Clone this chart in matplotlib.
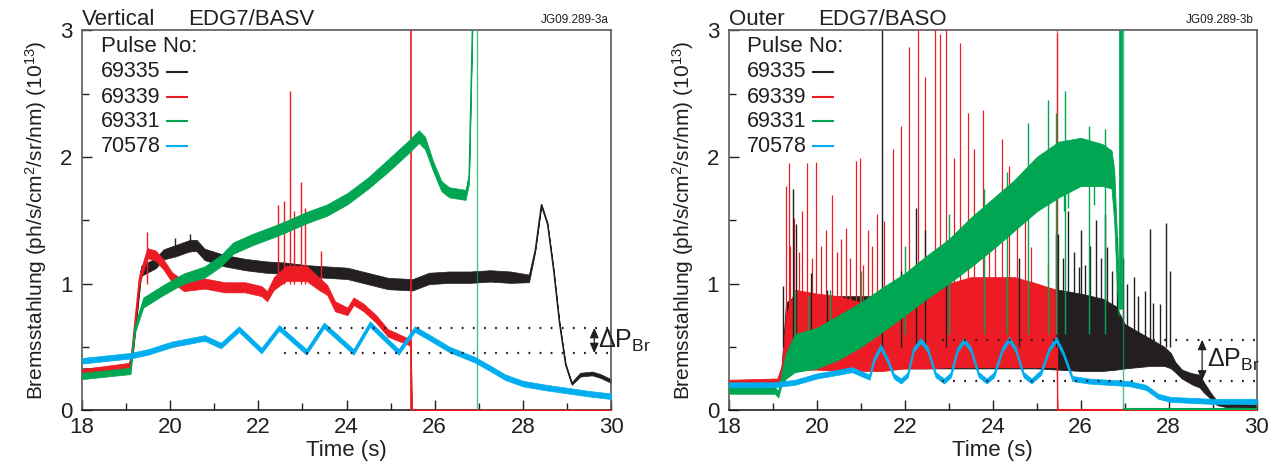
import matplotlib
matplotlib.use('Agg')
import matplotlib.pyplot as plt
import numpy as np

plt.rcParams['font.family'] = ['Liberation Sans', 'DejaVu Sans']
plt.rcParams['mathtext.fontset'] = 'custom'
plt.rcParams['mathtext.rm'] = 'Liberation Sans'

# ── colours ────────────────────────────────────────────────────────────────
C_BLK = '#231f20'
C_RED = '#ed1c24'
C_GRN = '#00a651'
C_BLU = '#00aeef'
C_SPINE = '#5a5a5a'

PULSES = ['69335', '69339', '69331', '70578']
COLORS = [C_BLK, C_RED, C_GRN, C_BLU]

# ── Vertical view (EDG7/BASV): centre value and noise half-width ──────────
v_blk_t = [18, 19.05, 19.15, 19.34, 19.67, 19.85, 20.13, 20.45, 20.6, 20.78, 21.24, 21.7,
           22.17, 22.63, 23.09, 23.56, 24.02, 24.48, 24.94, 25.5, 25.87, 26.33, 26.8, 27.26,
           27.72, 28.14, 28.28, 28.42, 28.56, 28.7, 28.83, 28.97, 29.11, 29.3, 29.57, 29.76, 30]
v_blk_v = [0.31, 0.33, 0.45, 1.10, 1.16, 1.23, 1.26, 1.30, 1.30, 1.23, 1.18, 1.15,
           1.13, 1.12, 1.10, 1.09, 1.08, 1.04, 1.00, 0.99, 1.04, 1.05, 1.05, 1.06,
           1.05, 1.04, 1.26, 1.62, 1.47, 1.10, 0.69, 0.36, 0.21, 0.28, 0.29, 0.27, 0.23]
v_blk_w = [0.02, 0.02, 0.02, 0.04, 0.04, 0.04, 0.045, 0.045, 0.045, 0.045, 0.045, 0.045,
           0.045, 0.045, 0.045, 0.045, 0.045, 0.045, 0.045, 0.045, 0.045, 0.045, 0.045, 0.045,
           0.045, 0.03, 0.01, 0.01, 0.01, 0.01, 0.01, 0.01, 0.01, 0.015, 0.015, 0.015, 0.015]
v_blk_spk_t = [20.45, 20.1]
v_blk_spk_v = [1.39, 1.36]

v_red_t = [18, 19.1, 19.3, 19.48, 19.67, 19.85, 20.04, 20.31, 20.78, 21.24, 21.7, 22.07, 22.2,
           22.35, 22.63, 23.09, 23.37, 23.56, 23.74, 24.02, 24.16, 24.39, 24.67, 24.94, 25.41,
           25.46, 25.48, 30]
v_red_v = [0.30, 0.35, 1.03, 1.24, 1.22, 1.15, 1.05, 0.98, 1.00, 0.97, 0.97, 0.94, 0.90,
           1.00, 1.08, 1.08, 1.00, 0.95, 0.82, 0.78, 0.86, 0.81, 0.72, 0.61, 0.54,
           0.52, 0.0, 0.0]
v_red_w = [0.025, 0.025, 0.04, 0.04, 0.04, 0.04, 0.04, 0.04, 0.04, 0.04, 0.04, 0.04, 0.04,
           0.05, 0.06, 0.06, 0.05, 0.04, 0.04, 0.03, 0.03, 0.03, 0.03, 0.03, 0.025,
           0.02, 0.0, 0.0]
v_red_spk_t = [19.48, 22.44, 22.58, 22.72, 22.8, 22.97, 23.05, 23.42]
v_red_spk_v = [1.41, 1.62, 1.65, 2.52, 1.57, 1.80, 1.60, 1.26]
v_red_drop_t = 25.47

v_grn_t = [18, 19.1, 19.2, 19.39, 19.85, 20.31, 20.78, 21.15, 21.43, 21.89, 22.35, 22.63,
           23.09, 23.56, 24.02, 24.48, 24.94, 25.41, 25.64, 25.78, 25.96, 26.15, 26.33, 26.7,
           26.78, 26.86]
v_grn_v = [0.27, 0.31, 0.64, 0.85, 0.95, 1.04, 1.09, 1.18, 1.28, 1.35, 1.41, 1.45,
           1.52, 1.58, 1.67, 1.79, 1.93, 2.08, 2.16, 2.11, 1.93, 1.77, 1.72, 1.70,
           1.83, 3.10]
v_grn_w = [0.025, 0.025, 0.03, 0.04, 0.04, 0.04, 0.045, 0.045, 0.045, 0.045, 0.045, 0.045,
           0.045, 0.045, 0.045, 0.045, 0.05, 0.05, 0.05, 0.05, 0.04, 0.04, 0.04, 0.04,
           0.04, 0.04]
v_grn_drop_t = 26.96

v_blu_t = [18, 19.1, 19.5, 20.04, 20.78, 21.15, 21.56, 22.07, 22.47, 23.09, 23.49, 24.16,
           24.53, 25.18, 25.55, 25.9, 26.33, 26.9, 27.26, 27.6, 28.0, 28.5, 29.1, 29.5, 30]
v_blu_v = [0.39, 0.43, 0.46, 0.52, 0.57, 0.51, 0.64, 0.47, 0.65, 0.46, 0.67, 0.46,
           0.68, 0.46, 0.64, 0.57, 0.48, 0.40, 0.33, 0.26, 0.21, 0.18, 0.15, 0.13, 0.11]

# ── Outer view (EDG7/BASO): lower / upper edge of the noise band ──────────
o_blk_t = [18, 19.1, 19.2, 19.3, 19.5, 20, 21, 22, 23, 24, 25, 25.5, 26, 26.5, 26.8, 27.0,
           27.3, 27.6, 27.9, 28.05, 28.15, 28.3, 28.45, 28.55, 28.7, 28.8, 28.95, 29.1, 29.3, 30]
o_blk_lo = [0.19, 0.19, 0.25, 0.33, 0.34, 0.34, 0.33, 0.33, 0.33, 0.33, 0.33, 0.32, 0.31,
            0.31, 0.32, 0.33, 0.34, 0.35, 0.35, 0.33, 0.30, 0.25, 0.22, 0.20, 0.18, 0.14,
            0.09, 0.04, 0.025, 0.02]
o_blk_hi = [0.22, 0.22, 0.35, 0.85, 0.90, 0.90, 0.90, 0.90, 0.90, 0.90, 0.92, 0.95, 0.92,
            0.88, 0.82, 0.68, 0.62, 0.56, 0.50, 0.45, 0.38, 0.32, 0.30, 0.29, 0.28, 0.22,
            0.14, 0.07, 0.05, 0.045]
o_blk_spk_t = [19.22, 19.46, 19.53, 19.87, 20.24, 21.48, 21.91, 22.26, 22.47, 22.94, 24.6,
               25.44, 25.49, 25.6, 25.72, 25.85, 25.96, 26.0, 26.1, 26.2, 26.34, 26.45, 26.55,
               26.6, 26.7, 26.83, 26.95, 27.05, 27.2, 27.3, 27.46, 27.57, 27.65, 27.8, 27.94,
               28.04]
o_blk_spk_v = [0.98, 1.75, 1.47, 1.08, 0.95, 3.0, 1.10, 1.60, 1.42, 1.29, 1.20,
               1.39, 1.39, 1.20, 1.57, 1.25, 1.13, 1.42, 1.15, 1.30, 1.50, 1.20, 1.55,
               1.29, 1.10, 1.37, 1.20, 1.00, 1.05, 0.90, 0.94, 1.43, 0.85, 0.84, 1.48,
               1.10]

o_red_t = [18, 19.1, 19.2, 19.3, 19.5, 20.0, 20.5, 21.0, 21.5, 22.0, 22.5, 23.0, 23.5, 24.0,
           24.5, 25.0, 25.45, 25.47, 30]
o_red_lo = [0.20, 0.20, 0.24, 0.30, 0.32, 0.32, 0.31, 0.31, 0.31, 0.33, 0.33, 0.34, 0.34,
            0.34, 0.34, 0.34, 0.34, -0.01, -0.01]
o_red_hi = [0.24, 0.25, 0.35, 0.75, 0.95, 0.92, 0.90, 0.85, 0.85, 0.90, 0.95, 1.00, 1.05,
            1.05, 1.05, 1.00, 0.95, 0.01, 0.01]
o_red_spk_t = [19.29, 19.36, 19.4, 19.48, 19.6, 19.66, 19.78, 19.9, 19.99, 20.1, 20.2, 20.34,
               20.45, 20.55, 20.66, 20.75, 20.88, 20.99, 21.05, 21.17, 21.25, 21.36, 21.52,
               21.73, 21.91, 22.1, 22.29, 22.47, 22.68, 22.8, 22.94, 23.12, 23.26, 23.43,
               23.58, 23.77, 23.91, 24.05, 24.22, 24.37, 24.56, 24.74, 24.88, 25.25, 25.46]
o_red_spk_v = [1.77, 1.95, 1.30, 1.52, 1.25, 1.57, 1.95, 1.20, 1.96, 1.30, 1.42, 1.70,
               1.25, 1.35, 1.44, 1.20, 1.97, 1.99, 1.15, 1.42, 1.30, 1.55, 1.49,
               2.06, 2.24, 2.87, 3.0, 2.63, 3.0, 2.97, 3.0, 1.99, 2.90, 2.35,
               2.06, 2.37, 1.60, 1.55, 2.14, 1.93, 1.62, 1.81, 1.29, 1.16, 2.98]

o_grn_t = [18, 19.05, 19.12, 19.2, 19.3, 19.5, 20.0, 20.5, 21.0, 21.5, 22.0, 22.5, 23.0,
           23.5, 24.0, 24.5, 25.0, 25.5, 26.0, 26.5, 26.7, 26.76, 26.82, 26.86]
o_grn_lo = [0.13, 0.13, 0.10, 0.20, 0.25, 0.30, 0.33, 0.40, 0.50, 0.62, 0.75, 0.88, 1.00,
            1.13, 1.27, 1.42, 1.57, 1.68, 1.77, 1.77, 1.75, 1.50, 1.00, 0.75]
o_grn_hi = [0.18, 0.18, 0.15, 0.30, 0.45, 0.60, 0.65, 0.75, 0.85, 0.97, 1.08, 1.22, 1.35,
            1.52, 1.67, 1.82, 2.00, 2.12, 2.15, 2.10, 2.05, 1.90, 1.40, 1.05]
o_grn_spk_t = [19.5, 19.8, 20.3, 21.0, 22.0, 23.0, 23.8, 24.33, 24.79, 25.25, 25.44, 25.65,
               26.18, 26.55]
o_grn_spk_v = [0.95, 0.90, 0.95, 1.10, 1.30, 1.55, 1.75, 1.88, 2.27, 2.45, 2.35, 2.52,
               2.24, 2.22]
o_grn_dip_t = [25.63, 25.72, 26.3]
o_grn_dip_v = [1.57, 1.60, 1.62]
o_grn_surge_t = [26.89, 26.92]
o_grn_drop_t = 26.96

o_blu_t = [18, 19.0, 19.5, 20.0, 20.5, 20.8, 21.2, 21.3, 21.45, 21.6, 21.75, 21.91, 22.07,
           22.2, 22.36, 22.52, 22.7, 22.89, 23.05, 23.2, 23.35, 23.5, 23.68, 23.86, 24.03,
           24.22, 24.37, 24.52, 24.7, 24.88, 25.1, 25.28, 25.44, 25.6, 25.81, 26.18, 27.1,
           27.48, 27.76, 28.04, 28.96, 30]
o_blu_v = [0.20, 0.20, 0.22, 0.27, 0.30, 0.32, 0.26, 0.40, 0.50, 0.40, 0.27, 0.23, 0.28,
           0.48, 0.55, 0.48, 0.28, 0.23, 0.28, 0.48, 0.55, 0.48, 0.28, 0.23, 0.28,
           0.48, 0.56, 0.48, 0.28, 0.23, 0.30, 0.48, 0.56, 0.45, 0.25, 0.23, 0.21,
           0.18, 0.11, 0.085, 0.07, 0.07]

# ΔP_Br markers (levels and start of dotted lines)
dp_left = dict(lo=0.45, hi=0.65, x0=22.58, xa=29.62, xt=29.71)
dp_right = dict(lo=0.233, hi=0.556, x0=22.84, xa=28.76, xt=28.87)


def band(ax, t, lo, hi, color, z):
    ax.fill_between(t, lo, hi, color=color, lw=0.6, edgecolor=color, zorder=z)


def trace(ax, t, v, w, color, z):
    v = np.array(v)
    w = np.array(w)
    ax.fill_between(t, v - w, v + w, color=color, lw=0.5, edgecolor=color, zorder=z)
    ax.plot(t, v, color=color, lw=1.0, zorder=z)


def frame(ax, tag, view, code, dp, xname):
    ax.set_xlim(18, 30)
    ax.set_ylim(0, 3)
    ax.set_xticks(range(18, 31, 2))
    ax.set_xticks(range(19, 30, 2), minor=True)
    ax.set_yticks([0, 1, 2, 3])
    ax.set_yticks([0.5, 1.5, 2.5], minor=True)
    ax.tick_params(which='both', direction='in', labelsize=16, colors=C_BLK,
                   top=False, right=False)
    ax.tick_params(which='major', length=7, width=1, pad=5)
    ax.tick_params(which='minor', length=5, width=1)
    ax.tick_params(axis='y', pad=7)
    for s in ['top', 'right', 'left']:
        ax.spines[s].set_color(C_SPINE)
    ax.spines['bottom'].set_color(C_BLK)
    for s in ax.spines.values():
        s.set_linewidth(1.2)
    ax.set_xlabel('Time (s)', fontsize=16, color=C_BLK, labelpad=1)
    ax.set_ylabel(r'Bremsstahlung (ph/s/cm$\mathregular{^2}$/sr/nm) (10$\mathregular{^{13}}$)',
                  fontsize=15, color=C_BLK, labelpad=8)

    ax.text(0.0, 1.0, view, transform=ax.transAxes, fontsize=16, color=C_BLK,
            ha='left', va='bottom')
    ax.text(xname, 1.0, tag, transform=ax.transAxes, fontsize=16, color=C_BLK,
            ha='left', va='bottom')
    ax.text(0.995, 1.01, code, transform=ax.transAxes, fontsize=8.5, color=C_BLK,
            ha='right', va='bottom')

    # legend drawn as in the original: text column plus short strokes
    ax.text(0.035, 0.957, 'Pulse No:', transform=ax.transAxes, fontsize=16,
            color=C_BLK, va='center', ha='left', zorder=20)
    ys = [0.891, 0.824, 0.760, 0.694]
    for name, col, y in zip(PULSES, COLORS, ys):
        ax.text(0.035, y, name, transform=ax.transAxes, fontsize=15.5, color=C_BLK,
                va='center', ha='left', zorder=20)
        ax.plot([0.16, 0.198], [y, y], transform=ax.transAxes, color=col, lw=1.5,
                zorder=20)

    # ΔP_Br construction
    for lev in (dp['lo'], dp['hi']):
        ax.hlines(lev, dp['x0'], 30, colors=C_BLK, lw=1.6,
                  linestyles=(0, (0.8, 4.2)), zorder=15)
    ax.annotate('', xy=(dp['xa'], dp['lo']), xytext=(dp['xa'], dp['hi']),
                arrowprops=dict(arrowstyle='<|-|>,head_length=0.5,head_width=0.22',
                                lw=0.9, color=C_BLK, mutation_scale=12,
                                shrinkA=0, shrinkB=0), zorder=15)
    ax.text(dp['xt'], (dp['lo'] + dp['hi']) / 2, r'ΔP$\mathregular{_{Br}}$',
            fontsize=18, color=C_BLK, va='center', ha='left', clip_on=False, zorder=15)


fig = plt.figure(figsize=(12.81, 4.72), dpi=100)
axL = fig.add_axes([0.064, 0.131, 0.413, 0.805])
axR = fig.add_axes([0.569, 0.131, 0.412, 0.805])

# ── left: Vertical ─────────────────────────────────────────────────────────
trace(axL, v_blk_t, v_blk_v, v_blk_w, C_BLK, 2)
axL.vlines(v_blk_spk_t, 1.25, v_blk_spk_v, colors=C_BLK, lw=1.0, zorder=2)
trace(axL, v_red_t, v_red_v, v_red_w, C_RED, 3)
axL.vlines(v_red_spk_t, 1.0, v_red_spk_v, colors=C_RED, lw=1.0, zorder=3)
axL.vlines(v_red_drop_t, 0, 3, colors=C_RED, lw=1.2, zorder=3)
trace(axL, v_grn_t, v_grn_v, v_grn_w, C_GRN, 4)
axL.vlines(v_grn_drop_t, 0, 3, colors=C_GRN, lw=1.0, alpha=0.7, zorder=4)
axL.hlines(0.004, v_grn_drop_t, 30, colors=C_GRN, lw=1.0, zorder=4)
trace(axL, v_blu_t, v_blu_v, [0.022] * len(v_blu_t), C_BLU, 5)
frame(axL, 'EDG7/BASV', 'Vertical', 'JG09.289-3a', dp_left, 0.2)

# ── right: Outer ───────────────────────────────────────────────────────────
band(axR, o_blk_t, o_blk_lo, o_blk_hi, C_BLK, 2)
axR.vlines(o_blk_spk_t, 0.5, o_blk_spk_v, colors=C_BLK, lw=1.0, zorder=3.5)
band(axR, o_red_t, o_red_lo, o_red_hi, C_RED, 3)
axR.vlines(o_red_spk_t, 0.6, o_red_spk_v, colors=C_RED, lw=0.9, zorder=3)
axR.vlines(25.47, 0, 3, colors=C_RED, lw=1.0, alpha=0.6, zorder=3)
band(axR, o_grn_t, o_grn_lo, o_grn_hi, C_GRN, 4)
axR.vlines(o_grn_spk_t, 0.6, o_grn_spk_v, colors=C_GRN, lw=1.0, zorder=4)
axR.vlines(o_grn_dip_t, o_grn_dip_v, 1.9, colors=C_GRN, lw=1.0, zorder=4)
axR.vlines(o_grn_surge_t, 0.8, 3.0, colors=C_GRN, lw=2.0, zorder=4)
axR.vlines(o_grn_drop_t, 0, 3, colors=C_GRN, lw=1.0, alpha=0.7, zorder=4)
axR.hlines(0.006, o_grn_drop_t, 30, colors=C_GRN, lw=1.5, zorder=4)
trace(axR, o_blu_t, o_blu_v, [0.02] * len(o_blu_t), C_BLU, 5)
frame(axR, 'EDG7/BASO', 'Outer', 'JG09.289-3b', dp_right, 0.17)

fig.savefig('out.png', dpi=100)
